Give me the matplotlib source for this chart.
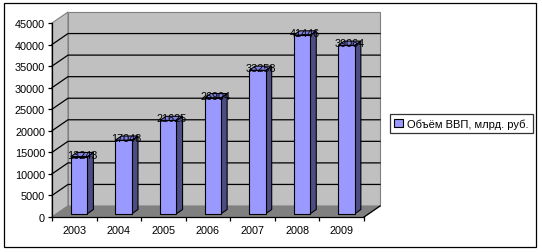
import matplotlib
matplotlib.use("Agg")
import matplotlib.pyplot as plt
from matplotlib.patches import Polygon, Rectangle, Patch

years = ["2003", "2004", "2005", "2006", "2007", "2008", "2009"]
gdp = [13243, 17048, 21625, 26904, 33258, 41446, 39064]
series_name = "Объём ВВП, млрд. руб."
y_ticks = list(range(0, 45001, 5000))

plt.rcParams["font.family"] = ["Liberation Sans", "DejaVu Sans"]

W, H = 542, 253
fig = plt.figure(figsize=(W / 100, H / 100), dpi=100)
fig.patch.set_facecolor("white")

# front axis box in pixels: x 52..364, y 218..24
ax = fig.add_axes([52 / W, (H - 218) / H, 312 / W, 194 / H])
n = len(years)
ax.set_xlim(-0.5, n - 0.5)
ax.set_ylim(0, 45000)
ax.patch.set_visible(False)

# depth of the 3d box, in data units (16 px right, 11 px up)
px_x = n / 312
px_y = 45000 / 194
DX = 16 * px_x
DY = 11 * px_y

wall = "#c0c0c0"
edge = "#808080"
x0, x1 = -0.5, n - 0.5
top = 45000

# left wall, back wall, floor
ax.add_patch(Polygon([(x0, 0), (x0 + DX, DY), (x0 + DX, top + DY), (x0, top)],
                     closed=True, facecolor=wall, edgecolor=edge, lw=0.8, clip_on=False, zorder=0))
ax.add_patch(Polygon([(x0 + DX, DY), (x1 + DX, DY), (x1 + DX, top + DY), (x0 + DX, top + DY)],
                     closed=True, facecolor=wall, edgecolor=edge, lw=0.8, clip_on=False, zorder=0))
ax.add_patch(Polygon([(x0, 0), (x1, 0), (x1 + DX, DY), (x0 + DX, DY)],
                     closed=True, facecolor="#808080", edgecolor=edge, lw=0.8, clip_on=False, zorder=0))

# gridlines on the walls
for v in y_ticks[1:-1]:
    ax.plot([x0, x0 + DX, x1 + DX], [v, v + DY, v + DY], color="black", lw=0.9,
            clip_on=False, zorder=1)
# right floor edge
ax.plot([x1, x1 + DX], [0, DY], color="black", lw=0.9, clip_on=False, zorder=1)

# bars
front_c = "#9999ff"
side_c = "#4d4d85"
top_c = "#8080e0"
bw = 0.37
f0 = 0.3
fd = 0.38
base = f0 * DY
for i, v in enumerate(gdp):
    xl = i - bw / 2 + f0 * DX
    xr = xl + bw
    ddx, ddy = fd * DX, fd * DY
    ax.add_patch(Polygon([(xr, base), (xr + ddx, base + ddy), (xr + ddx, base + v + ddy), (xr, base + v)],
                         closed=True, facecolor=side_c, edgecolor="black", lw=0.8, zorder=3, clip_on=False))
    ax.add_patch(Polygon([(xl, base + v), (xr, base + v), (xr + ddx, base + v + ddy), (xl + ddx, base + v + ddy)],
                         closed=True, facecolor=top_c, edgecolor="black", lw=0.8, zorder=3, clip_on=False))
    ax.text((xl + xr + ddx) / 2, base + v - 3 * px_y, str(v), ha="center", va="bottom",
            fontsize=7.8, color="black", zorder=5)
ax.bar([i + f0 * DX for i in range(n)], gdp, width=bw, bottom=base, color=front_c,
       edgecolor="black", lw=0.8, zorder=4, clip_on=False)

# axes
for s in ["top", "right"]:
    ax.spines[s].set_visible(False)
ax.spines["left"].set_linewidth(0.9)
ax.spines["bottom"].set_linewidth(0.9)
ax.spines["left"].set_zorder(6)
ax.spines["bottom"].set_zorder(6)
ax.set_yticks(y_ticks)
ax.set_yticklabels([str(v) for v in y_ticks])
ax.tick_params(axis="y", direction="out", length=3, width=0.9, pad=2, labelsize=7.8)
ax.set_xticks(range(n))
ax.set_xticklabels(years)
ax.tick_params(axis="x", which="major", length=0, pad=6, labelsize=7.8)
ax.set_xticks([i - 0.5 for i in range(n + 1)], minor=True)
ax.tick_params(axis="x", which="minor", direction="out", length=3, width=0.9)

# legend
handle = Patch(facecolor=front_c, edgecolor="black", lw=0.8)
fig.legend([handle], [series_name], loc="center left", bbox_to_anchor=(390 / W, 1 - 124.5 / H),
           bbox_transform=fig.transFigure, borderaxespad=0, fancybox=False, frameon=True,
           edgecolor="black", fontsize=8, handlelength=0.8, handleheight=0.8,
           handletextpad=0.4, borderpad=0.35)
leg = fig.legends[0]
leg.get_frame().set_linewidth(0.9)

# outer chart border
fig.patches.append(Rectangle((4 / W, 5 / H), 532 / W, 244 / H, transform=fig.transFigure,
                             fill=False, edgecolor="black", lw=0.9))

fig.savefig("out.png", dpi=100)
